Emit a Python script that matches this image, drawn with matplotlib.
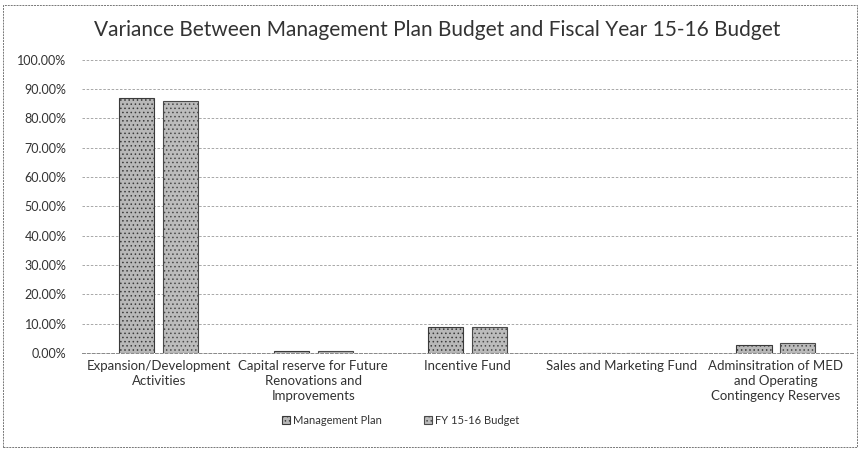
import numpy as np
import matplotlib
matplotlib.use("Agg")
import matplotlib.pyplot as plt
from matplotlib.ticker import PercentFormatter

categories = [
    "Expansion/Development\nActivities",
    "Capital reserve for Future\nRenovations and\nImprovements",
    "Incentive Fund",
    "Sales and Marketing Fund",
    "Adminsitration of MED\nand Operating\nContingency Reserves",
]
management_plan = [87.0, 0.7, 8.9, 0.0, 2.8]
fy_budget = [86.0, 0.7, 8.9, 0.0, 3.5]
series_names = ["Management Plan", "FY 15-16 Budget"]

plt.rcParams["font.family"] = ["Lato", "DejaVu Sans"]
plt.rcParams["hatch.color"] = "#6e6e6e"
plt.rcParams["hatch.linewidth"] = 0.6

fig = plt.figure(figsize=(8.6, 4.49), dpi=100)
ax = fig.add_axes([0.095, 0.214, 0.897, 0.653])

x = np.arange(len(categories))
w = 0.227
gap = 0.058
ax.bar(x - (w + gap) / 2, management_plan, w, color="#b8b8b8", hatch="....",
       edgecolor="#3a3a3a", linewidth=0.8, label=series_names[0], zorder=3)
ax.bar(x + (w + gap) / 2, fy_budget, w, color="#bcbcbc", hatch="....",
       edgecolor="#4a4a4a", linewidth=0.8, label=series_names[1], zorder=3)

ax.set_ylim(0, 100)
ax.set_xlim(-0.5, len(categories) - 0.5)
ax.set_yticks(np.arange(0, 101, 10))
ax.yaxis.set_major_formatter(PercentFormatter(decimals=2))
ax.set_xticks(x)
ax.set_xticklabels(categories, fontsize=9.5, color="#333333", linespacing=1.3)
ax.tick_params(axis="y", labelsize=9, colors="#333333", length=0, pad=11)
ax.tick_params(axis="x", length=0, pad=5)
ax.grid(axis="y", color="#9a9a9a", linestyle=(0, (3, 2)), linewidth=0.6, zorder=0)
for s in ["top", "right", "left"]:
    ax.spines[s].set_visible(False)
ax.spines["bottom"].set_color("#888888")
ax.spines["bottom"].set_linestyle((0, (3, 2)))
ax.spines["bottom"].set_linewidth(0.7)

fig.suptitle("Variance Between Management Plan Budget and Fiscal Year 15-16 Budget",
             fontsize=15, color="#333333", x=0.508, y=0.955)

fig.legend(loc="lower center", bbox_to_anchor=(0.466, 0.03), ncol=2, frameon=False,
           fontsize=8, handlelength=0.7, handleheight=0.7, columnspacing=3.8,
           handletextpad=0.3, labelcolor="#333333")

border = plt.Rectangle((0.004, 0.004), 0.992, 0.985, transform=fig.transFigure,
                       fill=False, edgecolor="#777777", linewidth=0.7,
                       linestyle=(0, (2, 1)))
fig.patches.append(border)

fig.savefig("out.png", dpi=100)
